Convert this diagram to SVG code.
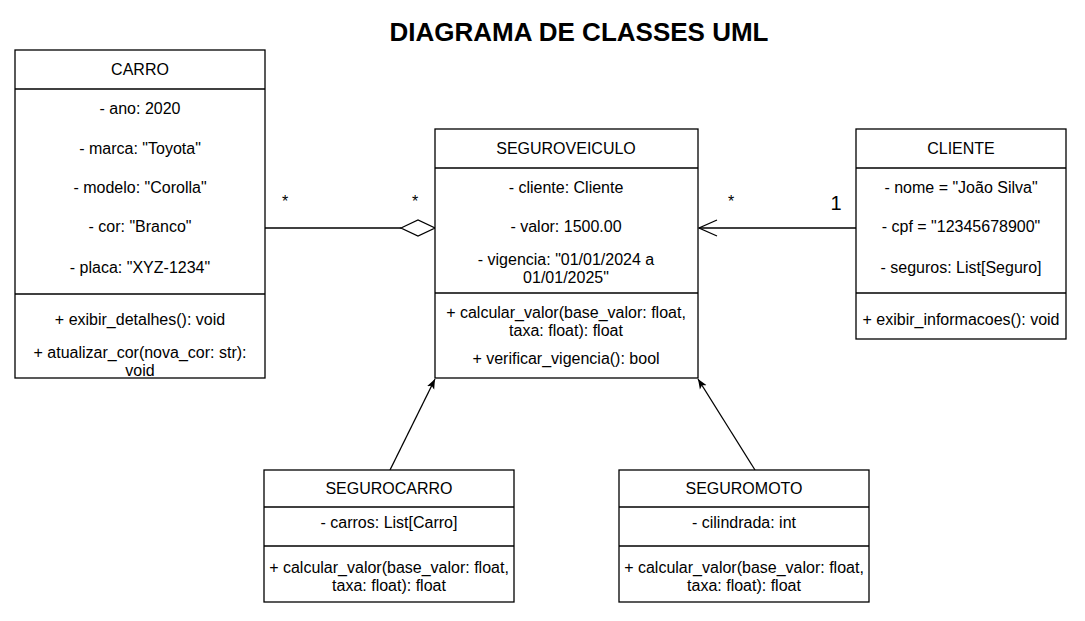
<svg xmlns="http://www.w3.org/2000/svg" width="1085" height="621" viewBox="0 0 1085 621">
<style>
.box{fill:#fff;stroke:#000;stroke-width:1.3}
.ln{stroke:#000;stroke-width:1.3;fill:none}
text{font-family:"Liberation Sans",Arial,sans-serif;font-size:16px;fill:#000;text-anchor:middle}
.title{font-size:26px;font-weight:bold}
.big{font-size:20px}
</style>
<defs>
<marker id="tri" viewBox="0 0 10 10" refX="10" refY="5" markerWidth="10" markerHeight="10" markerUnits="userSpaceOnUse" orient="auto">
<path d="M0,1 L10,5 L0,9 L2.5,5 Z" fill="#000"/>
</marker>
<marker id="open" viewBox="0 0 20 20" refX="19" refY="10" markerWidth="20" markerHeight="20" markerUnits="userSpaceOnUse" orient="auto">
<path d="M1,2 L19,10 L1,18" fill="none" stroke="#000" stroke-width="1.3"/>
</marker>
</defs>
<rect width="1085" height="621" fill="#fff"/>
<text class="title" x="579" y="41">DIAGRAMA DE CLASSES UML</text>

<g id="connectors">
<line class="ln" x1="265" y1="228" x2="401" y2="228"/>
<path d="M401,228 L418,220 L435,228 L418,236 Z" fill="#fff" stroke="#000" stroke-width="1.3"/>
<line class="ln" x1="856" y1="228" x2="699" y2="228" marker-end="url(#open)"/>
<line class="ln" x1="390" y1="470" x2="435" y2="379" marker-end="url(#tri)"/>
<line class="ln" x1="755" y1="470" x2="698" y2="379" marker-end="url(#tri)"/>
<text x="285" y="207">*</text>
<text x="415" y="207">*</text>
<text x="731" y="207">*</text>
<text class="big" x="836" y="210">1</text>
</g>

<g id="carro">
<rect class="box" x="15" y="50" width="250" height="328"/>
<line class="ln" x1="15" y1="89" x2="265" y2="89"/>
<line class="ln" x1="15" y1="294" x2="265" y2="294"/>
<text x="140" y="75">CARRO</text>
<text x="140" y="114">- ano: 2020</text>
<text x="140" y="154">- marca: "Toyota"</text>
<text x="140" y="193">- modelo: "Corolla"</text>
<text x="140" y="232">- cor: "Branco"</text>
<text x="140" y="273">- placa: "XYZ-1234"</text>
<text x="140" y="325">+ exibir_detalhes(): void</text>
<text x="140" y="358">+ atualizar_cor(nova_cor: str):</text>
<text x="140" y="376">void</text>
</g>

<g id="seguroveiculo">
<rect class="box" x="435" y="129" width="263" height="249"/>
<line class="ln" x1="435" y1="168" x2="698" y2="168"/>
<line class="ln" x1="435" y1="293" x2="698" y2="293"/>
<text x="566" y="154">SEGUROVEICULO</text>
<text x="566" y="193">- cliente: Cliente</text>
<text x="566" y="232">- valor: 1500.00</text>
<text x="566" y="265">- vigencia: "01/01/2024 a</text>
<text x="566" y="283">01/01/2025"</text>
<text x="566" y="318">+ calcular_valor(base_valor: float,</text>
<text x="566" y="336">taxa: float): float</text>
<text x="566" y="364">+ verificar_vigencia(): bool</text>
</g>

<g id="cliente">
<rect class="box" x="856" y="129" width="210" height="210"/>
<line class="ln" x1="856" y1="168" x2="1066" y2="168"/>
<line class="ln" x1="856" y1="293" x2="1066" y2="293"/>
<text x="961" y="154">CLIENTE</text>
<text x="961" y="193">- nome = "João Silva"</text>
<text x="961" y="232">- cpf = "12345678900"</text>
<text x="961" y="273">- seguros: List[Seguro]</text>
<text x="961" y="325">+ exibir_informacoes(): void</text>
</g>

<g id="segurocarro">
<rect class="box" x="264" y="470" width="250" height="132"/>
<line class="ln" x1="264" y1="507" x2="514" y2="507"/>
<line class="ln" x1="264" y1="546" x2="514" y2="546"/>
<text x="389" y="494">SEGUROCARRO</text>
<text x="389" y="528">- carros: List[Carro]</text>
<text x="389" y="573">+ calcular_valor(base_valor: float,</text>
<text x="389" y="591">taxa: float): float</text>
</g>

<g id="seguromoto">
<rect class="box" x="619" y="470" width="250" height="132"/>
<line class="ln" x1="619" y1="507" x2="869" y2="507"/>
<line class="ln" x1="619" y1="546" x2="869" y2="546"/>
<text x="744" y="494">SEGUROMOTO</text>
<text x="744" y="528">- cilindrada: int</text>
<text x="744" y="573">+ calcular_valor(base_valor: float,</text>
<text x="744" y="591">taxa: float): float</text>
</g>
</svg>
